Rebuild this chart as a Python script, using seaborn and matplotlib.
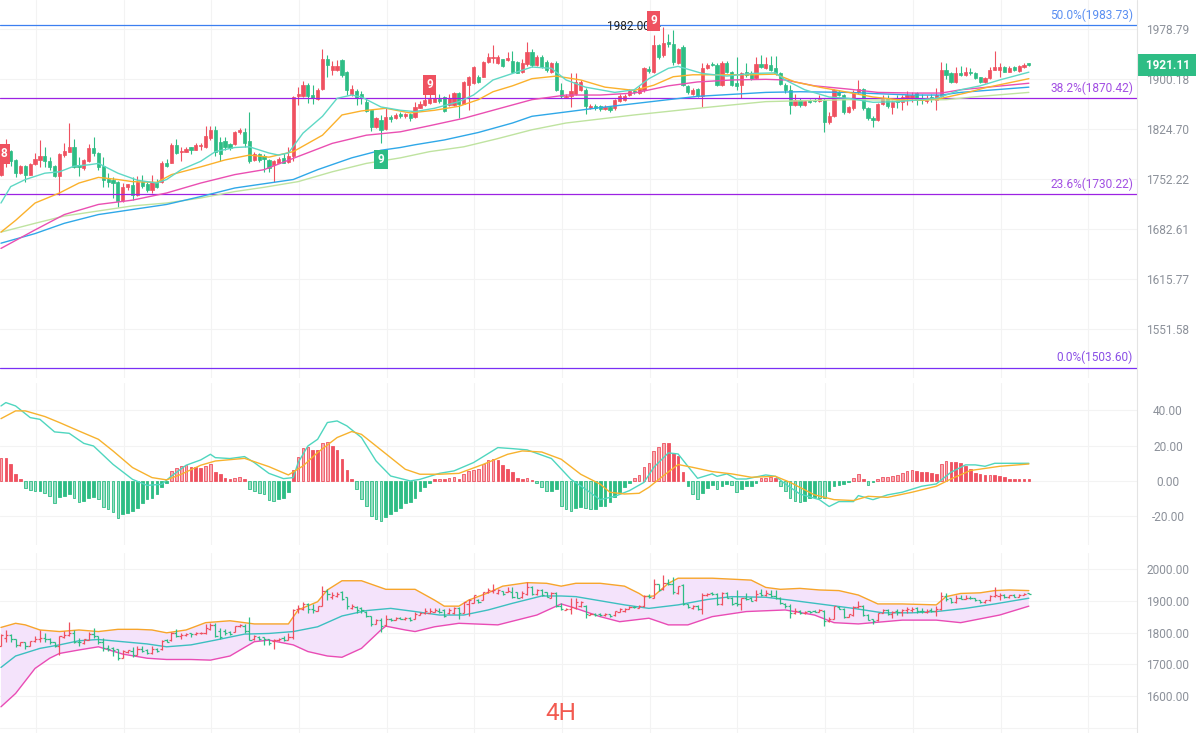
import numpy as np
import pandas as pd
import matplotlib
matplotlib.use("Agg")
import matplotlib.pyplot as plt
import seaborn as sns
from matplotlib.lines import Line2D
from matplotlib.ticker import NullLocator, NullFormatter, FuncFormatter

# 4H candles (index 0 = left edge)
opens = [1757, 1783, 1792, 1779, 1760, 1770, 1758, 1773, 1779, 1784,
         1778, 1770, 1756, 1786, 1791, 1797, 1771, 1768, 1777, 1796,
         1789, 1770, 1752, 1750, 1748, 1721, 1740, 1743, 1729, 1748,
         1744, 1736, 1748, 1748, 1775, 1775, 1800, 1790, 1791, 1797,
         1794, 1799, 1798, 1811, 1823, 1805, 1806, 1802, 1802, 1819,
         1820, 1806, 1779, 1787, 1785, 1779, 1772, 1775, 1782, 1776,
         1785, 1873, 1873, 1890, 1875, 1869, 1884, 1930, 1913, 1914,
         1929, 1911, 1877, 1881, 1876, 1865, 1852, 1827, 1838, 1824,
         1842, 1840, 1846, 1843, 1846, 1842, 1856, 1860, 1863, 1865,
         1869, 1872, 1860, 1860, 1878, 1862, 1890, 1893, 1902, 1903,
         1926, 1932, 1925, 1930, 1929, 1928, 1926, 1911, 1922, 1942,
         1921, 1934, 1926, 1910, 1925, 1883, 1872, 1874, 1877, 1883,
         1883, 1856, 1859, 1858, 1854, 1857, 1855, 1866, 1868, 1875,
         1881, 1878, 1882, 1915, 1910, 1952, 1936, 1957, 1954, 1924,
         1950, 1889, 1877, 1884, 1874, 1917, 1923, 1921, 1890, 1924,
         1910, 1893, 1890, 1910, 1909, 1901, 1923, 1917, 1921, 1916,
         1908, 1890, 1883, 1860, 1868, 1860, 1867, 1868, 1866, 1868,
         1835, 1843, 1879, 1875, 1850, 1855, 1879, 1884, 1855, 1841,
         1838, 1861, 1870, 1857, 1867, 1864, 1870, 1870, 1878, 1869,
         1866, 1872, 1868, 1873, 1914, 1908, 1895, 1908, 1906, 1910,
         1909, 1903, 1895, 1901, 1914, 1914, 1918, 1911, 1918, 1912,
         1918, 1924]
highs = [1796, 1809, 1794, 1780, 1771, 1771, 1774, 1789, 1808, 1798,
         1783, 1771, 1789, 1804, 1833, 1809, 1783, 1781, 1802, 1813,
         1790, 1783, 1760, 1755, 1749, 1746, 1745, 1755, 1756, 1757,
         1748, 1757, 1752, 1777, 1780, 1803, 1810, 1797, 1797, 1798,
         1803, 1803, 1828, 1829, 1829, 1813, 1812, 1804, 1821, 1826,
         1826, 1849, 1791, 1789, 1787, 1781, 1779, 1783, 1789, 1798,
         1873, 1887, 1897, 1893, 1890, 1885, 1946, 1937, 1928, 1929,
         1930, 1912, 1890, 1884, 1881, 1869, 1853, 1842, 1845, 1856,
         1845, 1848, 1849, 1848, 1848, 1864, 1866, 1876, 1877, 1878,
         1876, 1873, 1876, 1880, 1880, 1897, 1904, 1919, 1905, 1927,
         1940, 1953, 1936, 1931, 1942, 1943, 1927, 1930, 1958, 1946,
         1937, 1936, 1929, 1926, 1927, 1894, 1876, 1909, 1909, 1898,
         1886, 1861, 1862, 1860, 1860, 1859, 1869, 1876, 1876, 1884,
         1884, 1888, 1918, 1920, 1968, 1954, 1982, 1970, 1976, 1948,
         1952, 1891, 1886, 1886, 1924, 1924, 1926, 1924, 1927, 1927,
         1912, 1934, 1910, 1924, 1912, 1934, 1937, 1934, 1935, 1935,
         1911, 1893, 1890, 1877, 1870, 1868, 1869, 1870, 1875, 1870,
         1849, 1884, 1883, 1877, 1859, 1882, 1898, 1886, 1857, 1843,
         1863, 1875, 1875, 1867, 1875, 1875, 1881, 1880, 1880, 1877,
         1875, 1876, 1885, 1926, 1924, 1910, 1918, 1919, 1918, 1916,
         1910, 1903, 1903, 1918, 1943, 1924, 1920, 1919, 1920, 1921,
         1925, 1925]
lows = [1756, 1769, 1770, 1755, 1759, 1748, 1757, 1771, 1769, 1769,
        1764, 1755, 1729, 1783, 1790, 1768, 1756, 1765, 1776, 1784,
        1765, 1741, 1741, 1725, 1713, 1720, 1736, 1722, 1728, 1739,
        1733, 1732, 1739, 1746, 1769, 1774, 1787, 1778, 1790, 1787,
        1793, 1794, 1796, 1808, 1785, 1778, 1793, 1793, 1801, 1817,
        1798, 1775, 1777, 1776, 1762, 1762, 1748, 1774, 1774, 1775,
        1778, 1860, 1872, 1863, 1862, 1868, 1883, 1903, 1906, 1912,
        1903, 1875, 1873, 1860, 1861, 1849, 1821, 1826, 1803, 1822,
        1835, 1839, 1841, 1840, 1836, 1841, 1855, 1859, 1862, 1864,
        1863, 1849, 1859, 1859, 1841, 1861, 1853, 1892, 1893, 1902,
        1925, 1924, 1922, 1918, 1928, 1909, 1908, 1909, 1919, 1918,
        1919, 1916, 1911, 1909, 1881, 1871, 1870, 1857, 1875, 1881,
        1846, 1854, 1852, 1851, 1852, 1850, 1853, 1864, 1866, 1873,
        1877, 1876, 1880, 1908, 1908, 1930, 1933, 1950, 1921, 1922,
        1888, 1877, 1875, 1872, 1857, 1915, 1919, 1888, 1888, 1908,
        1888, 1883, 1871, 1903, 1898, 1900, 1916, 1915, 1912, 1906,
        1890, 1878, 1847, 1858, 1857, 1858, 1863, 1864, 1865, 1820,
        1832, 1842, 1873, 1847, 1848, 1853, 1877, 1853, 1838, 1827,
        1836, 1860, 1855, 1847, 1855, 1852, 1860, 1864, 1860, 1862,
        1863, 1865, 1853, 1872, 1900, 1893, 1894, 1904, 1904, 1905,
        1899, 1894, 1893, 1900, 1913, 1903, 1910, 1910, 1912, 1911,
        1917, 1920]
closes = [1793, 1791, 1778, 1760, 1770, 1758, 1773, 1781, 1784, 1778,
          1769, 1756, 1788, 1792, 1798, 1769, 1769, 1779, 1796, 1789,
          1769, 1750, 1748, 1746, 1721, 1741, 1744, 1729, 1748, 1742,
          1736, 1747, 1741, 1774, 1770, 1800, 1789, 1792, 1795, 1794,
          1800, 1800, 1814, 1823, 1790, 1787, 1797, 1796, 1820, 1823,
          1804, 1777, 1788, 1779, 1780, 1768, 1777, 1781, 1775, 1785,
          1872, 1876, 1890, 1874, 1870, 1883, 1930, 1921, 1919, 1920,
          1906, 1883, 1884, 1871, 1870, 1851, 1827, 1840, 1822, 1842,
          1839, 1845, 1843, 1846, 1840, 1857, 1862, 1867, 1869, 1870,
          1866, 1851, 1871, 1878, 1862, 1895, 1902, 1918, 1895, 1926,
          1933, 1934, 1933, 1920, 1932, 1911, 1909, 1925, 1942, 1921,
          1934, 1918, 1913, 1924, 1883, 1874, 1874, 1881, 1895, 1895,
          1858, 1858, 1855, 1854, 1857, 1852, 1867, 1874, 1873, 1881,
          1879, 1885, 1916, 1912, 1952, 1934, 1956, 1954, 1926, 1946,
          1890, 1879, 1882, 1874, 1917, 1921, 1921, 1890, 1924, 1910,
          1890, 1889, 1909, 1906, 1900, 1922, 1918, 1923, 1914, 1908,
          1892, 1883, 1860, 1868, 1860, 1866, 1865, 1866, 1871, 1835,
          1844, 1883, 1875, 1849, 1857, 1880, 1884, 1855, 1840, 1837,
          1861, 1870, 1858, 1864, 1864, 1872, 1875, 1875, 1868, 1867,
          1868, 1869, 1875, 1914, 1906, 1895, 1908, 1906, 1910, 1908,
          1901, 1895, 1901, 1914, 1918, 1918, 1911, 1917, 1913, 1919,
          1921, 1921.11]

# moving averages, read at sampled candle indices
ma_fast_idx = [0, 2, 5, 9, 12, 15, 18, 20, 22, 24, 28, 32, 34, 37, 41, 44, 48, 51, 55, 57,
               59, 62, 66, 69, 72, 74, 78, 82, 85, 89, 94, 97, 101, 105, 109, 113, 116, 120, 126, 130,
               133, 137, 139, 144, 149, 154, 159, 161, 165, 170, 174, 179, 184, 189, 192, 194, 197, 201, 205, 211]
ma_fast = [1718, 1741, 1751, 1760, 1762, 1770, 1772, 1774, 1767, 1760, 1750, 1746, 1751, 1765, 1777, 1791, 1797, 1798, 1789, 1786,
           1789, 1818, 1843, 1870, 1875, 1872, 1857, 1852, 1850, 1855, 1865, 1875, 1898, 1908, 1918, 1916, 1898, 1887, 1879, 1883,
           1900, 1916, 1919, 1908, 1904, 1908, 1909, 1898, 1883, 1872, 1870, 1864, 1865, 1868, 1870, 1875, 1883, 1889, 1898, 1910]
ma_mid_idx = [0, 3, 7, 12, 16, 20, 24, 27, 32, 35, 41, 46, 51, 55, 60, 66, 70, 74, 79, 84,
              89, 94, 98, 101, 105, 109, 114, 119, 124, 130, 134, 138, 142, 148, 154, 159, 163, 168, 174, 179,
              184, 189, 193, 198, 202, 211]
ma_mid = [1678, 1694, 1718, 1732, 1746, 1754, 1751, 1748, 1747, 1758, 1769, 1779, 1786, 1783, 1791, 1815, 1845, 1851, 1855, 1848,
          1852, 1858, 1868, 1880, 1889, 1900, 1904, 1898, 1887, 1882, 1890, 1903, 1906, 1906, 1906, 1907, 1895, 1887, 1879, 1872,
          1868, 1867, 1870, 1878, 1886, 1900]
ma_pink_idx = [0, 7, 13, 20, 27, 34, 41, 48, 54, 61, 68, 75, 82, 88, 95, 102, 109, 116, 123, 130,
               137, 143, 150, 157, 161, 167, 174, 180, 187, 193, 197, 204, 211]
ma_pink = [1656, 1681, 1702, 1716, 1722, 1732, 1746, 1758, 1765, 1784, 1803, 1815, 1820, 1829, 1840, 1854, 1868, 1875, 1875, 1878,
           1889, 1895, 1898, 1899, 1898, 1889, 1884, 1879, 1878, 1878, 1883, 1888, 1893]
ma_blue_idx = [0, 7, 13, 20, 27, 34, 41, 48, 54, 60, 65, 72, 78, 82, 85, 91, 98, 105, 109, 123,
               137, 143, 150, 157, 164, 174, 180, 187, 193, 197, 204, 211]
ma_blue = [1663, 1676, 1690, 1702, 1709, 1716, 1727, 1739, 1745, 1751, 1765, 1782, 1793, 1797, 1801, 1808, 1819, 1833, 1843, 1856,
           1868, 1873, 1876, 1879, 1880, 1879, 1877, 1875, 1875, 1879, 1883, 1887]
ma_lg_idx = [0, 7, 13, 20, 27, 34, 41, 48, 54, 61, 68, 75, 82, 88, 95, 102, 109, 116, 130, 143,
             157, 174, 187, 194, 201, 211]
ma_lg = [1678, 1690, 1700, 1707, 1714, 1718, 1725, 1734, 1740, 1748, 1762, 1774, 1782, 1791, 1798, 1810, 1823, 1833, 1845, 1855,
         1865, 1868, 1867, 1868, 1873, 1879]

# Fibonacci levels and price axis ticks
fib_levels = [1983.73, 1870.42, 1730.22, 1503.60]
fib_names = ['50.0%', '38.2%', '23.6%', '0.0%']
price_ticks = [1551.58, 1615.77, 1682.61, 1752.22, 1824.70, 1900.18, 1978.79]
last_price = 1921.11
high_mark = 1982.00

# MACD histogram (one per candle) and DIF / DEA sampled
macd_hist = [13.2, 12.8, 9.4, 3.8, 1.3, -3.8, -5.3, -5.7, -5.7, -6.6,
             -8.5, -12.3, -8.9, -8.5, -7.6, -9.4, -11.9, -11.3, -9.4, -8.9,
             -10.0, -14.5, -15.7, -17.6, -20.8, -18.9, -17.9, -17.0, -15.1, -12.7,
             -10.4, -9.4, -7.6, -3.2, -1.0, 5.7, 7.6, 8.5, 8.9, 8.1,
             8.1, 7.6, 8.5, 9.4, 5.1, 4.2, 1.9, 0.9, 1.9, 2.5,
             0.9, -4.3, -5.7, -6.6, -7.6, -10.8, -11.3, -10.4, -9.4, -6.2,
             6.2, 13.8, 18.9, 19.5, 17.6, 17.6, 21.3, 22.1, 19.8, 17.6,
             12.7, 6.2, 0.9, -4.7, -10.0, -14.2, -19.8, -21.7, -22.7, -20.4,
             -18.5, -17.0, -15.1, -12.7, -11.9, -9.4, -5.7, -3.2, -0.9, 0.9,
             1.3, 0.9, 1.7, 2.5, 0.9, 3.8, 5.7, 6.2, 7.0, 9.4,
             11.7, 12.3, 11.7, 8.9, 7.0, 5.1, 1.9, 0.9, 1.9, 0.4,
             -0.9, -3.2, -5.7, -5.7, -4.7, -14.2, -15.7, -17.0, -15.1, -14.5,
             -15.1, -15.7, -15.7, -14.4, -14.0, -12.1, -9.3, -6.4, -3.6, -1.1,
             1.7, 3.4, 7.7, 10.2, 17.2, 19.1, 21.5, 21.5, 15.9, 14.0,
             5.3, -2.6, -7.4, -10.2, -6.8, -4.2, -2.3, -4.5, -2.6, -1.7,
             -2.3, -6.4, -4.5, -3.0, -2.6, -1.1, 1.5, 1.9, 2.1, 1.7,
             -2.6, -5.5, -9.8, -11.1, -11.7, -11.1, -9.8, -9.3, -9.5, -9.6,
             -5.5, -2.6, -2.3, -1.7, -0.8, 1.5, 4.0, 1.1, -2.3, -0.8,
             1.1, 2.1, 2.5, 3.0, 3.4, 4.3, 5.9, 6.2, 5.9, 5.3,
             4.9, 4.3, 4.0, 9.6, 11.5, 11.0, 10.8, 10.0, 8.7, 6.8,
             4.3, 3.8, 3.4, 3.6, 3.6, 2.8, 2.1, 1.1, 1.1, 1.1,
             1.1, 1.1]
dif_idx = [0, 1, 3, 6, 8, 11, 14, 17, 19, 23, 27, 30, 33, 35, 38, 41, 43, 44, 47, 50,
           52, 55, 58, 60, 61, 63, 65, 67, 69, 71, 74, 77, 80, 84, 86, 90, 93, 97, 102, 105,
           108, 113, 117, 120, 123, 126, 129, 132, 134, 137, 139, 141, 143, 146, 147, 149, 151, 153, 157, 159,
           161, 164, 168, 170, 172, 175, 176, 179, 182, 185, 189, 192, 195, 198, 200, 202, 204, 207, 211]
dif = [42.5, 44.4, 42.5, 35.9, 34.9, 27.8, 27.0, 21.3, 19.8, 9.4, 0.9, -2.5, -1.9, 2.8, 8.9, 11.9, 15.1, 13.2, 12.7, 13.8,
       10.4, 4.3, 1.3, 1.9, 10.4, 19.8, 23.6, 33.1, 34.0, 31.2, 24.6, 11.3, 2.8, 0.0, 0.9, 4.3, 5.7, 10.4, 18.9, 18.3,
       17.6, 12.7, 0.9, -4.7, -10.6, -8.7, -5.5, -0.8, 7.7, 15.9, 15.3, 8.3, 1.5, 4.0, 2.6, 4.0, 1.1, 1.1, 3.4, 2.6,
       -1.7, -7.4, -10.6, -14.5, -11.7, -11.7, -8.3, -10.6, -7.9, -6.4, -3.0, -1.7, 4.9, 9.1, 9.1, 8.3, 10.0, 10.0, 10.0]
dea_idx = [0, 3, 5, 9, 12, 16, 20, 23, 27, 31, 34, 37, 41, 44, 50, 55, 59, 62, 65, 69,
           72, 74, 78, 83, 86, 90, 94, 99, 104, 107, 111, 115, 119, 123, 125, 128, 131, 133, 136, 139,
           142, 146, 150, 154, 159, 162, 167, 171, 175, 178, 182, 187, 192, 195, 199, 205, 211]
dea = [35.3, 39.7, 39.7, 36.5, 33.1, 28.3, 23.6, 17.0, 7.6, 1.9, 0.6, 3.8, 8.9, 11.3, 12.8, 8.1, 3.4, 8.5, 16.1, 24.6,
       28.0, 26.4, 17.6, 6.6, 3.8, 3.8, 4.3, 9.4, 15.1, 17.0, 16.4, 12.3, 3.8, -1.8, -6.4, -7.4, -7.0, -3.6, 3.0, 9.3,
       7.7, 5.3, 4.0, 2.1, 2.6, -0.8, -7.9, -10.6, -11.1, -8.7, -9.3, -6.4, -3.0, 1.1, 5.9, 8.3, 9.6]
macd_ticks = [-20, 0, 20, 40]

# Bollinger bands, sampled
bb_up_idx = [0, 3, 5, 8, 12, 16, 20, 24, 28, 31, 34, 38, 42, 47, 50, 52, 59, 61, 65, 67,
             70, 74, 79, 85, 89, 91, 94, 96, 100, 103, 108, 112, 115, 118, 123, 128, 131, 132, 134, 137,
             139, 146, 150, 154, 157, 160, 164, 168, 172, 176, 180, 185, 192, 194, 197, 201, 204, 207, 211]
bb_up = [1816, 1829, 1824, 1808, 1803, 1808, 1803, 1810, 1810, 1808, 1799, 1808, 1831, 1837, 1831, 1827, 1827, 1871, 1897, 1934,
         1963, 1963, 1936, 1936, 1902, 1883, 1883, 1902, 1925, 1946, 1957, 1955, 1946, 1955, 1955, 1946, 1923, 1913, 1915, 1955,
         1971, 1971, 1968, 1965, 1942, 1936, 1939, 1934, 1932, 1918, 1890, 1890, 1887, 1913, 1923, 1925, 1932, 1934, 1932]
bb_mid_idx = [0, 3, 8, 12, 16, 20, 25, 30, 34, 39, 44, 50, 55, 60, 65, 70, 75, 80, 85, 90,
              95, 100, 105, 111, 115, 118, 123, 128, 133, 139, 145, 150, 157, 162, 168, 175, 181,
              187, 192, 198, 204, 211]
bb_mid = [1690, 1726, 1750, 1761, 1774, 1778, 1771, 1764, 1755, 1761, 1776, 1795, 1797, 1803, 1818, 1852, 1869, 1876, 1866, 1855,
          1855, 1871, 1892, 1915, 1915, 1913, 1900, 1887, 1876, 1887, 1904, 1913, 1911, 1902, 1890, 1876, 1862,
          1862, 1866, 1876, 1890, 1908]
bb_low_idx = [0, 3, 7, 10, 12, 16, 20, 25, 30, 34, 39, 43, 47, 52, 55, 60, 63, 67, 70, 74,
              78, 79, 83, 85, 89, 94, 102, 110, 115, 118, 123, 127, 133, 137, 141, 146, 153, 161, 167, 171,
              176, 185, 192, 197, 205, 211]
bb_low = [1566, 1608, 1687, 1719, 1734, 1745, 1755, 1732, 1719, 1715, 1715, 1713, 1726, 1771, 1776, 1761, 1740, 1726, 1722, 1750,
          1808, 1820, 1808, 1803, 1818, 1829, 1824, 1855, 1890, 1876, 1850, 1834, 1845, 1824, 1824, 1850, 1866, 1871, 1855, 1831,
          1827, 1839, 1839, 1831, 1855, 1883]
boll_ticks = [1500, 1600, 1700, 1800, 1900, 2000]

RED = '#ef5160'
GREEN = '#2ebd85'
RED_LIGHT = '#f7aab0'
GREEN_LIGHT = '#97dec3'
TICK_COLOR = '#8c919a'

sns.set_theme(style='white')
plt.rcParams['font.family'] = ['Roboto', 'DejaVu Sans']

fig = plt.figure(figsize=(11.96, 7.33), dpi=100)
W = 1137 / 1196
ax1 = fig.add_axes([0, 1 - 378 / 733, W, 378 / 733])
ax2 = fig.add_axes([0, 1 - 545 / 733, W, 162 / 733])
ax3 = fig.add_axes([0, 0, W, 180 / 733])

idx = np.arange(len(closes))
o = np.array(opens, float)
h = np.array(highs, float)
l = np.array(lows, float)
c = np.array(closes, float)
cc = np.where(c >= o, RED, GREEN)

# ---- price panel ----
ax1.set_yscale('log')
ax1.vlines(idx, l, h, colors=cc, lw=0.8, zorder=2)
ax1.bar(idx, np.abs(c - o), bottom=np.minimum(o, c), width=0.66, color=cc,
        edgecolor=cc, linewidth=0.5, zorder=2)

ma_lines = [(ma_lg_idx, ma_lg, '#bfe3a0'), (ma_blue_idx, ma_blue, '#2fa8e8'),
            (ma_pink_idx, ma_pink, '#ea4fb2'), (ma_mid_idx, ma_mid, '#fbb12c'),
            (ma_fast_idx, ma_fast, '#5fd8c5')]
for xs, ys, col in ma_lines:
    sns.lineplot(x=xs, y=ys, ax=ax1, color=col, linewidth=1.0, zorder=3, legend=False)

fib_line_colors = ['#3b7ff0', '#9c22e3', '#9c22e3', '#7a2ff5']
fib_text_colors = ['#5a8ff2', '#a24fe3', '#a24fe3', '#8a4fe6']
for lvl, name, lc, tc in zip(fib_levels, fib_names, fib_line_colors, fib_text_colors):
    ax1.axhline(lvl, color=lc, lw=0.9, zorder=2.5)
    ax1.annotate(f'{name}({lvl:.2f})', xy=(1133 / 1137, lvl), xycoords=('axes fraction', 'data'),
                 xytext=(0, 2.5), textcoords='offset points', ha='right', va='bottom',
                 fontsize=8.6, color=tc)


def td_label(ax, x, y, txt, fc):
    ax.text(x, y, txt, ha='center', va='center', color='white', fontsize=8.5,
            fontweight='bold', zorder=6, clip_on=True,
            bbox=dict(boxstyle='square,pad=0.28', fc=fc, ec='none'))


ax1.annotate(f'{high_mark:.2f}', xy=(135.3, high_mark), xytext=(133.2, high_mark),
             ha='right', va='center', fontsize=8.5, color='#222222', zorder=5,
             arrowprops=dict(arrowstyle='-', color='#222222', lw=0.8, shrinkA=0, shrinkB=0))
td_label(ax1, 88, 1890.4, '9', RED)
td_label(ax1, 134, 1990.9, '9', RED)
td_label(ax1, 78, 1779.7, '9', GREEN)
td_label(ax1, 0.5, 1787.6, '8', RED)

ax1.annotate(f' {last_price:.2f} ', xy=(1.0, last_price), xycoords=('axes fraction', 'data'),
             xytext=(4, 0), textcoords='offset points', ha='left', va='center',
             fontsize=8.5, fontweight='bold', color='white', annotation_clip=False, zorder=10,
             bbox=dict(boxstyle='square,pad=0.35', fc=GREEN, ec='none'))

# top of axes at 2025.0, bottom (pixel 378) on the same log scale
ax1.set_ylim(1491.0, 2025.0)
ax1.set_yticks(price_ticks)
ax1.yaxis.set_minor_locator(NullLocator())
ax1.yaxis.set_minor_formatter(NullFormatter())
ax1.yaxis.set_major_formatter(FuncFormatter(lambda v, p: f'{v:.2f}'))

# ---- MACD panel ----
hist = np.array(macd_hist)
prev = np.r_[0.0, hist[:-1]]
growing = np.abs(hist) > np.abs(prev)
edge = np.where(hist >= 0, RED, GREEN)
face = np.where(growing, np.where(hist >= 0, RED_LIGHT, GREEN_LIGHT), edge)
ax2.bar(idx, hist, width=0.55, color=face, edgecolor=edge, linewidth=0.6, zorder=2)
sns.lineplot(x=dif_idx, y=dif, ax=ax2, color='#4fd6bf', linewidth=1.0, zorder=3, legend=False)
sns.lineplot(x=dea_idx, y=dea, ax=ax2, color='#f7b22e', linewidth=1.0, zorder=3, legend=False)
ax2.set_ylim(-36.3, 55.5)
ax2.set_yticks(macd_ticks)
ax2.yaxis.set_major_formatter(FuncFormatter(lambda v, p: f'{v:.2f}'))

# ---- Bollinger panel ----
ax3.fill(np.r_[bb_up_idx, bb_low_idx[::-1]], np.r_[bb_up, bb_low[::-1]],
         color='#f4e3fb', lw=0, zorder=1)
sns.lineplot(x=bb_up_idx, y=bb_up, ax=ax3, color='#f7a52b', linewidth=1.0, zorder=2, legend=False)
sns.lineplot(x=bb_mid_idx, y=bb_mid, ax=ax3, color='#3cbfc0', linewidth=1.0, zorder=2, legend=False)
sns.lineplot(x=bb_low_idx, y=bb_low, ax=ax3, color='#e94cb5', linewidth=1.0, zorder=2, legend=False)
ax3.vlines(idx, l, h, colors=cc, lw=0.9, zorder=3)
ax3.hlines(o, idx - 0.45, idx, colors=cc, lw=0.9, zorder=3)
ax3.hlines(c, idx, idx + 0.45, colors=cc, lw=0.9, zorder=3)
ax3.set_ylim(1483.5, 2050.4)
ax3.set_yticks(boll_ticks)
ax3.yaxis.set_major_formatter(FuncFormatter(lambda v, p: '' if v < 1550 else f'{v:.2f}'))

for ax in (ax1, ax2, ax3):
    ax.set_xlim(-0.2, 233.2)
    ax.set_xticks(np.arange(7.18, 233, 18))
    ax.tick_params(axis='x', length=0, labelbottom=False)
    ax.grid(True, color='#f3f3f3', lw=0.8)
    ax.set_axisbelow(True)
    for s in ax.spines.values():
        s.set_visible(False)
    ax.yaxis.tick_right()
    ax.tick_params(axis='y', length=0, pad=22.3, labelsize=8.6, labelcolor=TICK_COLOR)
    ax.set_xlabel('')
    ax.set_ylabel('')
    ax.set_facecolor('white')
    plt.setp(ax.get_yticklabels(), ha='center')

fig.add_artist(Line2D([W, W], [0, 1], transform=fig.transFigure, color='#e4e4e4', lw=0.8))
fig.text(560.5 / 1196, 1 - 713.5 / 733, '4H', color='#f25a50', fontsize=17.5,
         ha='center', va='center')

fig.savefig('out.png', dpi=100)
